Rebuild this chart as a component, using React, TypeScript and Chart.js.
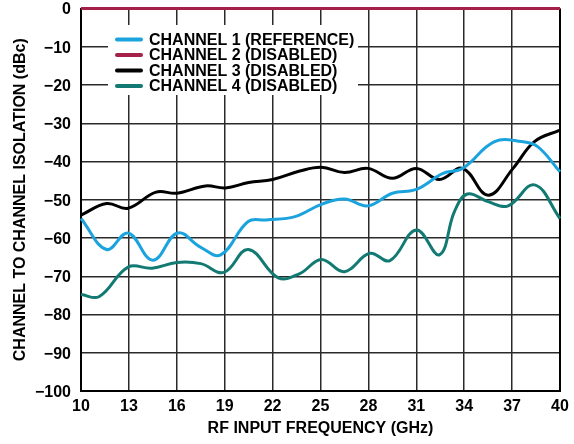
import React, { useEffect, useRef } from "react";
import { Chart, registerables } from "chart.js";

Chart.register(...registerables);

// ---- data ----
const xTicks = [10, 13, 16, 19, 22, 25, 28, 31, 34, 37, 40];
const yTicks = [0, -10, -20, -30, -40, -50, -60, -70, -80, -90, -100];

const seriesLabels = [
  "CHANNEL 1 (REFERENCE)",
  "CHANNEL 2 (DISABLED)",
  "CHANNEL 3 (DISABLED)",
  "CHANNEL 4 (DISABLED)",
];

const freqCh1 = [10, 11.6, 12.95, 14.5, 16.05, 17.45, 18.75, 20.47, 21.6, 23.4, 25.05, 26.5, 27.97, 29.5, 31.0, 32.67, 33.9, 35.9, 37.6, 38.6, 40];
const ch1 = [-54.9, -63, -58.7, -65.8, -58.7, -62.3, -64.4, -55.7, -55.3, -54.4, -51.2, -49.8, -51.6, -48.3, -47.3, -43.1, -41.8, -34.8, -34.8, -36.1, -42.7];

const freqCh2 = [10, 40];
const ch2 = [0, 0];

const freqCh3 = [10, 11.6, 12.95, 14.7, 16.0, 17.8, 19.05, 20.5, 22.0, 23.7, 25.05, 26.5, 27.97, 29.5, 31.0, 32.45, 33.9, 35.5, 37.06, 38.4, 40];
const ch3 = [-54, -51, -52.2, -48, -48.3, -46.4, -46.9, -45.5, -44.7, -42.5, -41.5, -42.9, -41.8, -44.4, -41.8, -44.7, -41.8, -48.8, -41.8, -34.8, -31.8];

const freqCh4 = [10, 11.15, 12.95, 14.45, 16.0, 17.5, 18.95, 20.48, 22.35, 23.7, 25.05, 26.5, 28.08, 29.35, 31.0, 32.45, 33.4, 34.2, 35.5, 36.75, 38.4, 40];
const ch4 = [-74.8, -75.3, -67.6, -67.9, -66.4, -66.7, -69, -63, -70.4, -69.3, -65.6, -68.8, -64, -65.9, -57.9, -64.4, -53, -48.5, -50.5, -51.6, -46.1, -54.9];

const colors = ["#1BA3DD", "#A52149", "#000000", "#127A72"];

const FONT_FAMILY = "'Liberation Sans', Arial, Helvetica, sans-serif";

const toPts = (xs: number[], ys: number[]) => xs.map((x, i) => ({ x, y: ys[i] }));

const frameAndLegend = {
  id: "frameAndLegend",
  beforeDatasetsDraw(chart: any) {
    const { ctx, chartArea } = chart;
    ctx.save();
    // legend box (covers gridlines)
    const bx = chartArea.left + 27;
    const by = chartArea.top + 16.5;
    ctx.fillStyle = "#ffffff";
    ctx.fillRect(bx, by, 250, 70);
    ctx.font = `bold 16px ${FONT_FAMILY}`;
    ctx.textBaseline = "middle";
    ctx.textAlign = "left";
    chart.data.datasets.forEach((ds: any, i: number) => {
      const y = by + 14.5 + i * 15.5;
      ctx.strokeStyle = ds.borderColor;
      ctx.lineWidth = 4;
      ctx.lineCap = "round";
      ctx.beginPath();
      ctx.moveTo(bx + 9, y);
      ctx.lineTo(bx + 33, y);
      ctx.stroke();
      ctx.fillStyle = "#000";
      ctx.fillText(ds.label, bx + 41, y + 1);
    });
    // right border
    ctx.strokeStyle = "#000";
    ctx.lineWidth = 2;
    ctx.lineCap = "butt";
    ctx.beginPath();
    ctx.moveTo(chartArea.right, chartArea.top);
    ctx.lineTo(chartArea.right, chartArea.bottom + 1);
    ctx.stroke();
    ctx.restore();
  },
};

export default function App() {
  const ref = useRef<HTMLCanvasElement | null>(null);
  useEffect(() => {
    if (!ref.current) return;
    const series = [
      toPts(freqCh1, ch1),
      toPts(freqCh2, ch2),
      toPts(freqCh3, ch3),
      toPts(freqCh4, ch4),
    ];
    const chart = new Chart(ref.current, {
      type: "line",
      data: {
        datasets: series.map((d, i) => ({
          label: seriesLabels[i],
          data: d,
          borderColor: colors[i],
          backgroundColor: colors[i],
          borderWidth: 3,
          pointRadius: 0,
          tension: 0.4,
          fill: false,
          clip: false,
        })),
      },
      options: {
        responsive: false,
        animation: false,
        layout: { padding: { top: 8.5, right: 14, left: 0, bottom: 0 } },
        plugins: {
          legend: { display: false },
          tooltip: { enabled: false },
        },
        scales: {
          x: {
            type: "linear",
            min: 10,
            max: 40,
            afterBuildTicks: (scale: any) => {
              scale.ticks = xTicks.map((v) => ({ value: v }));
            },
            afterFit: (scale: any) => {
              scale.height = 53;
              scale.paddingLeft = 0;
              scale.paddingRight = 0;
            },
            grid: { color: "#2a2a2a", lineWidth: 1.5, drawTicks: false },
            border: { display: true, color: "#000", width: 2 },
            ticks: {
              padding: 6,
              color: "#000",
              font: { family: FONT_FAMILY, size: 16, weight: "bold" },
              maxRotation: 0,
              callback: (v: any) => String(v),
            },
            title: {
              display: true,
              text: "RF INPUT FREQUENCY (GHz)",
              color: "#000",
              font: { family: FONT_FAMILY, size: 16, weight: "bold" },
              padding: { top: 0, bottom: 5.5 },
            },
          },
          y: {
            type: "linear",
            min: -100,
            max: 0,
            afterBuildTicks: (scale: any) => {
              scale.ticks = yTicks.map((v) => ({ value: v }));
            },
            afterFit: (scale: any) => {
              scale.width = 81;
              scale.paddingTop = 0;
              scale.paddingBottom = 0;
            },
            grid: { color: "#2a2a2a", lineWidth: 1.5, drawTicks: false },
            border: { display: true, color: "#000", width: 2 },
            ticks: {
              padding: 10,
              labelOffset: 1.5,
              color: "#000",
              font: { family: FONT_FAMILY, size: 16, weight: "bold" },
              callback: (v: any) => (v < 0 ? "\u2212" + Math.abs(v) : String(v)),
            },
            title: {
              display: true,
              text: "CHANNEL TO CHANNEL ISOLATION (dBc)",
              color: "#000",
              font: { family: FONT_FAMILY, size: 16, weight: "bold" },
              padding: { top: 10.5, bottom: 0 },
            },
          },
        },
      },
      plugins: [frameAndLegend],
    });
    return () => chart.destroy();
  }, []);
  return (
    <div style={{ position: "fixed", left: 0, top: 0, width: 574, height: 444, background: "#fff" }}>
      <canvas ref={ref} width={574} height={444} style={{ display: "block" }} />
    </div>
  );
}
